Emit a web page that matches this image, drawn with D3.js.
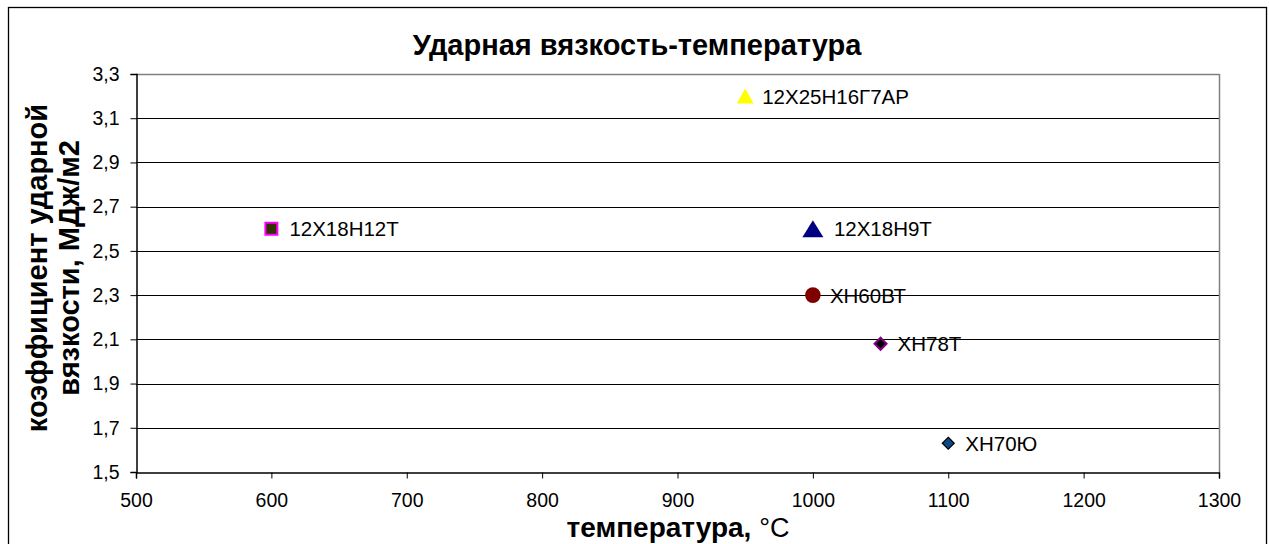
<!DOCTYPE html>
<html><head><meta charset="utf-8">
<script src="https://cdn.jsdelivr.net/npm/d3@7"></script>
<style>body{margin:0;background:#fff}svg{display:block;font-family:"Liberation Sans",Arial,sans-serif}</style>
</head><body>
<svg id="c" width="1269" height="544"></svg>
<script>
const names = ["12Х18Н12Т","12Х25Н16Г7АР","12Х18Н9Т","ХН60ВТ","ХН78Т","ХН70Ю"];
const temps = [600, 950, 1000, 1000, 1050, 1100];
const values = [2.6, 3.2, 2.6, 2.3, 2.08, 1.63];
const xTicks = [500,600,700,800,900,1000,1100,1200,1300];
const yTicks = [1.5,1.7,1.9,2.1,2.3,2.5,2.7,2.9,3.1,3.3];
const title = "Ударная вязкость-температура";
const yTitle = ["коэффициент ударной","вязкости, МДж/м2"];
const xTitle = "температура, ";
const xUnit = "°С";

const tri = (w,h)=>({draw(c){c.moveTo(0,-h/2);c.lineTo(w/2,h/2);c.lineTo(-w/2,h/2);c.closePath();}});
const dia = (w,h)=>({draw(c){c.moveTo(0,-h/2);c.lineTo(w/2,0);c.lineTo(0,h/2);c.lineTo(-w/2,0);c.closePath();}});
const sq = (w)=>({draw(c){c.rect(-w/2,-w/2,w,w);}});
const circ = (r)=>({draw(c){c.moveTo(r,0);c.arc(0,0,r,0,2*Math.PI);}});

const styles = [
  {shape:sq(12), fill:"#333300", stroke:"#ff00ff", sw:2},
  {shape:tri(17,15), fill:"#ffff00", stroke:"#ffff00", sw:0},
  {shape:tri(21,17), fill:"#000080", stroke:"#000080", sw:0},
  {shape:circ(7.8), fill:"#800000", stroke:"#800000", sw:0},
  {shape:dia(12,12), fill:"#000000", stroke:"#800080", sw:2},
  {shape:dia(12,12), fill:"#0b4a86", stroke:"#000000", sw:1.2}
];

const svg = d3.select("#c");
svg.append("rect").attr("x",8.5).attr("y",7.5).attr("width",1258).attr("height",545)
  .attr("fill","#fff").attr("stroke","#000").attr("stroke-width",1.3);

const L=136, R=1219, T=74, B=472;
const x = d3.scaleLinear().domain([500,1300]).range([L,R]);
const y = d3.scaleLinear().domain([1.5,3.3]).range([B,T]);

svg.append("g").selectAll("line").data(yTicks.slice(1)).join("line")
  .attr("x1",L).attr("x2",R).attr("y1",d=>Math.round(y(d))+0.5).attr("y2",d=>Math.round(y(d))+0.5)
  .attr("stroke","#000").attr("stroke-width",1);
svg.append("line").attr("x1",R+0.5).attr("x2",R+0.5).attr("y1",T).attr("y2",B).attr("stroke","#808080").attr("stroke-width",1.5);
svg.append("line").attr("x1",L).attr("x2",R).attr("y1",T+0.5).attr("y2",T+0.5).attr("stroke","#808080").attr("stroke-width",1.5);

const fmt = d=>d3.format(".1f")(d).replace(".",",");
const ya = svg.append("g").attr("transform",`translate(${L+0.5},0)`)
  .call(d3.axisLeft(y).tickValues(yTicks).tickFormat(fmt).tickSize(6).tickPadding(11));
const xa = svg.append("g").attr("transform",`translate(0,${B+0.5})`)
  .call(d3.axisBottom(x).tickValues(xTicks).tickFormat(d3.format("d")).tickSize(6).tickPadding(15));
[ya,xa].forEach(a=>{
  a.selectAll("text").attr("font-size",19.5).attr("fill","#000").attr("font-family","Liberation Sans, Arial, sans-serif");
  a.selectAll("line").attr("stroke","#000");
  a.select(".domain").attr("stroke","#000").attr("stroke-width",1.5);
});

const pts = names.map((n,i)=>({n, t:temps[i], v:values[i], s:styles[i]}));
svg.append("g").selectAll("path").data(pts).join("path")
  .attr("transform",d=>`translate(${x(d.t)},${y(d.v)})`)
  .attr("d",d=>d3.symbol().type(d.s.shape)())
  .attr("fill",d=>d.s.fill).attr("stroke",d=>d.s.stroke).attr("stroke-width",d=>d.s.sw);
const offs = [18,17,21,17,17,17];
svg.append("g").selectAll("text").data(pts).join("text")
  .attr("x",(d,i)=>x(d.t)+offs[i]).attr("y",d=>y(d.v)+7.5)
  .attr("font-size",20.5).attr("fill","#000").text(d=>d.n);

svg.append("text").attr("x",637).attr("y",55).attr("text-anchor","middle")
  .attr("font-size",29).attr("font-weight","bold").text(title);
const yt = svg.append("text").attr("transform","translate(0,268) rotate(-90)")
  .attr("text-anchor","middle").attr("font-size",29).attr("font-weight","bold");
yt.append("tspan").attr("x",0).attr("y",47).text(yTitle[0]);
yt.append("tspan").attr("x",0).attr("y",79).text(yTitle[1]);
const xt = svg.append("text").attr("x",678).attr("y",537).attr("text-anchor","middle").attr("font-size",28);
xt.append("tspan").attr("font-weight","bold").text(xTitle);
xt.append("tspan").attr("font-size",27).text(xUnit);
</script>
</body></html>
